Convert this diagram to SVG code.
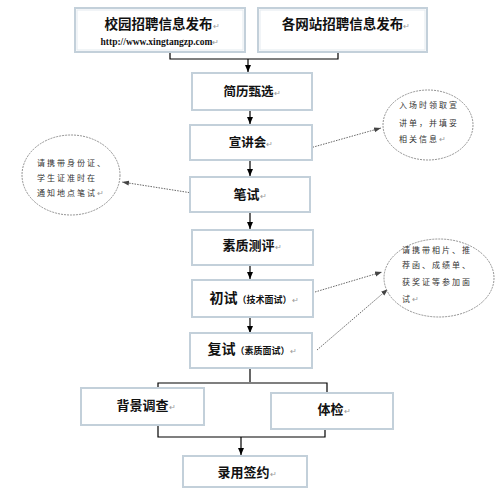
<svg xmlns="http://www.w3.org/2000/svg" width="500" height="494" viewBox="0 0 500 494">
<defs>
<marker id="ah" markerWidth="8" markerHeight="8" refX="7" refY="4" orient="auto" markerUnits="userSpaceOnUse">
<path d="M0,1 L7,4 L0,7 Z" fill="#000"/>
</marker>
<marker id="ahg" markerWidth="8" markerHeight="8" refX="7" refY="4" orient="auto" markerUnits="userSpaceOnUse">
<path d="M0,1.5 L7,4 L0,6.5 Z" fill="#444"/>
</marker>
<style>
.box{fill:#fff;stroke:#c3d0da;stroke-width:2}
.box2{fill:none;stroke:#e3eaef;stroke-width:1}
.t{font-family:"Noto Sans CJK SC","Noto Sans",sans-serif;font-weight:bold;fill:#111;text-anchor:middle}
.url{font-family:"Liberation Serif",serif;font-weight:bold;fill:#111;font-size:9.5px;text-anchor:middle}
.pm{fill:#999;font-weight:normal;font-size:8px}
.ell{fill:#fff;stroke:#777;stroke-width:0.8;stroke-dasharray:2 1}
.et{font-family:"Noto Sans CJK SC","Noto Sans",sans-serif;font-size:8px;letter-spacing:2px;fill:#333}
.ln{fill:none;stroke:#000;stroke-width:1.2}
.dl{fill:none;stroke:#555;stroke-width:0.9;stroke-dasharray:1.5 1.2}
</style>
</defs>
<rect width="500" height="494" fill="#fff"/>

<g id="connectors">
<path class="ln" d="M170,52 V59 H338 V52"/>
<path class="ln" d="M248,59 V72" marker-end="url(#ah)"/>
<path class="ln" d="M250,110 V124" marker-end="url(#ah)"/>
<path class="ln" d="M250,160 V176" marker-end="url(#ah)"/>
<path class="ln" d="M250,212 V229" marker-end="url(#ah)"/>
<path class="ln" d="M250,265 V279" marker-end="url(#ah)"/>
<path class="ln" d="M250,317 V333" marker-end="url(#ah)"/>
<path class="ln" d="M250,368 V382"/>
<path class="ln" d="M158,388 V383 H327 V393"/>
<path class="ln" d="M158,425 V437 H325 V429"/>
<path class="ln" d="M241,437 V455" marker-end="url(#ah)"/>
<path class="dl" d="M310,148 L381,128" marker-end="url(#ahg)"/>
<path class="dl" d="M192,193 L122,182" marker-end="url(#ahg)"/>
<path class="dl" d="M315,292 L382,272" marker-end="url(#ahg)"/>
<path class="dl" d="M317,350 L388,289" marker-end="url(#ahg)"/>
</g>

<g id="campus">
<rect class="box" x="75" y="8" width="170" height="44"/>
<rect class="box2" x="77" y="10" width="166" height="40"/>
<text class="t" x="162" y="29" font-size="13.5">校园招聘信息发布<tspan class="pm">↵</tspan></text>
<text class="url" x="160" y="45">http://www.xingtangzp.com<tspan class="pm">↵</tspan></text>
</g>

<g id="websites">
<rect class="box" x="258" y="8" width="169" height="44"/>
<rect class="box2" x="260" y="10" width="165" height="40"/>
<text class="t" x="346" y="29" font-size="13.5">各网站招聘信息发布<tspan class="pm">↵</tspan></text>
</g>

<g id="screening">
<rect class="box" x="192" y="73" width="120" height="37"/>
<text class="t" x="252" y="96" font-size="12.5">简历甄选<tspan class="pm">↵</tspan></text>
</g>

<g id="seminar">
<rect class="box" x="190" y="125" width="122" height="35"/>
<text class="t" x="251" y="147" font-size="12.5">宣讲会<tspan class="pm">↵</tspan></text>
</g>

<g id="written">
<rect class="box" x="190" y="177" width="120" height="35"/>
<text class="t" x="250" y="199" font-size="13">笔试<tspan class="pm">↵</tspan></text>
</g>

<g id="quality">
<rect class="box" x="192" y="230" width="121" height="35"/>
<text class="t" x="252" y="250" font-size="13">素质测评<tspan class="pm">↵</tspan></text>
</g>

<g id="first">
<rect class="box" x="192" y="280" width="121" height="37"/>
<text class="t" x="254" y="303" font-size="14">初试<tspan font-size="9">（技术面试）</tspan><tspan class="pm">↵</tspan></text>
</g>

<g id="second">
<rect class="box" x="190" y="333" width="122" height="35"/>
<text class="t" x="252" y="354" font-size="14">复试<tspan font-size="9">（素质面试）</tspan><tspan class="pm">↵</tspan></text>
</g>

<g id="background">
<rect class="box" x="81" y="388" width="123" height="37"/>
<text class="t" x="146" y="410" font-size="13">背景调查<tspan class="pm">↵</tspan></text>
</g>

<g id="medical">
<rect class="box" x="271" y="393" width="122" height="36"/>
<text class="t" x="334" y="414" font-size="13">体检<tspan class="pm">↵</tspan></text>
</g>

<g id="hire">
<rect class="box" x="183" y="456" width="124" height="31"/>
<text class="t" x="247" y="477" font-size="13">录用签约<tspan class="pm">↵</tspan></text>
</g>

<g id="note1">
<ellipse class="ell" cx="428" cy="125" rx="45" ry="35"/>
<text class="et" x="399" y="108">入场时领取宣</text>
<text class="et" x="399" y="126">讲单，并填妥</text>
<text class="et" x="399" y="142">相关信息<tspan fill="#999" letter-spacing="0">↵</tspan></text>
</g>

<g id="note2">
<ellipse class="ell" cx="71" cy="175" rx="49" ry="40"/>
<text class="et" x="37" y="166">请携带身份证、</text>
<text class="et" x="37" y="181">学生证准时在</text>
<text class="et" x="37" y="196">通知地点笔试<tspan fill="#999" letter-spacing="0">↵</tspan></text>
</g>

<g id="note3">
<ellipse class="ell" cx="439" cy="278" rx="55" ry="39"/>
<text class="et" x="402" y="253">请携带相片、推</text>
<text class="et" x="402" y="268">荐函、成绩单、</text>
<text class="et" x="402" y="285">获奖证等参加面</text>
<text class="et" x="402" y="302">试<tspan fill="#999" letter-spacing="0">↵</tspan></text>
</g>
</svg>
